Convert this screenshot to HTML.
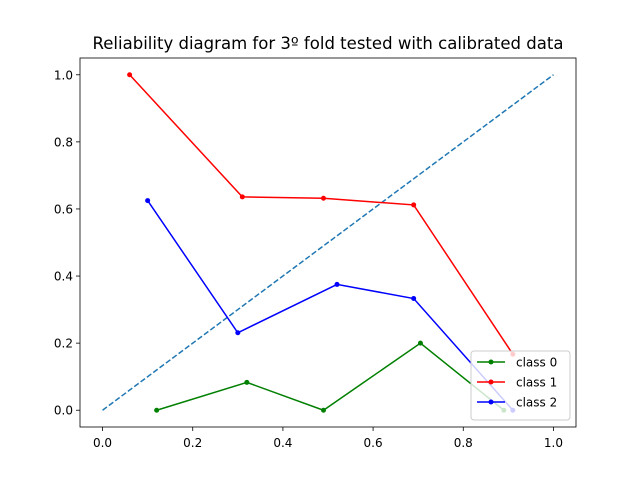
<!DOCTYPE html>
<html><head><meta charset="utf-8"><style>body{margin:0;background:#fff}svg{display:block;font-family:"DejaVu Sans","Liberation Sans",sans-serif}</style></head>
<body>
<svg id="chart" width="640" height="480" xmlns="http://www.w3.org/2000/svg"></svg>
<script>
const xTicks=[0,0.2,0.4,0.6,0.8,1.0];
const yTicks=[0,0.2,0.4,0.6,0.8,1.0];
const seriesNames=["class 0","class 1","class 2"];
const seriesColors=["green","red","blue"];
const class0X=[0.12,0.32,0.49,0.705,0.89];
const class0Y=[0.0,0.083,0.0,0.20,0.0];
const class1X=[0.06,0.31,0.49,0.69,0.91];
const class1Y=[1.0,0.636,0.632,0.612,0.167];
const class2X=[0.10,0.30,0.52,0.69,0.91];
const class2Y=[0.625,0.231,0.375,0.333,0.0];
const diagX=[0,1];
const diagY=[0,1];

const svg=document.getElementById('chart');
const NS='http://www.w3.org/2000/svg';
const L=80,R=576,T=58,B=427;
const sx=v=>L+(v+0.05)/1.1*(R-L);
const sy=v=>B-(v+0.05)/1.1*(B-T);
function mk(tag,attrs,parent){const e=document.createElementNS(NS,tag);for(const k in attrs)e.setAttribute(k,attrs[k]);(parent||svg).appendChild(e);return e;}

const title=mk('text',{x:328,y:49,'text-anchor':'middle','font-size':16.5,fill:'#000',textLength:471,lengthAdjust:'spacingAndGlyphs'});
title.textContent='Reliability diagram for 3º fold tested with calibrated data';



xTicks.forEach(t=>{
  const ln=mk('line',{x1:sx(t),x2:sx(t),y1:B,y2:B+4,stroke:'#000','stroke-width':0.8});
  
  
  const tx=mk('text',{x:sx(t),y:B+20,'text-anchor':'middle','font-size':12,fill:'#000'});
  tx.textContent=t.toFixed(1);
  
  
});
yTicks.forEach(t=>{
  const ln=mk('line',{x1:L-4,x2:L,y1:sy(t),y2:sy(t),stroke:'#000','stroke-width':0.8});
  
  
  const tx=mk('text',{x:L-7,y:sy(t)+4.5,'text-anchor':'end','font-size':12,fill:'#000'});
  tx.textContent=t.toFixed(1);
  
  
});

const diag=mk('polyline',{points:diagX.map((x,i)=>sx(x)+','+sy(diagY[i])).join(' '),fill:'none',stroke:'#1f77b4','stroke-width':1.5,'stroke-dasharray':'5.5,2.4'});



const allX=[class0X,class1X,class2X],allY=[class0Y,class1Y,class2Y];
allX.forEach((xs,s)=>{
  const g=mk('g',{});
  
  
  mk('polyline',{points:xs.map((x,i)=>sx(x)+','+sy(allY[s][i])).join(' '),fill:'none',stroke:seriesColors[s],'stroke-width':1.5},g);
  xs.forEach((x,i)=>{
    const c=mk('circle',{cx:sx(x),cy:sy(allY[s][i]),r:2.5,fill:seriesColors[s]},g);
    
    
  });
});

const frame=mk('rect',{x:L,y:T,width:R-L,height:B-T,fill:'none',stroke:'#000','stroke-width':0.8});



const lg=mk('g',{});


mk('rect',{x:471,y:351,width:99,height:69,rx:3,fill:'#fff','fill-opacity':0.8,stroke:'#ccc','stroke-width':1},lg);
seriesNames.forEach((n,i)=>{
  const y=362+i*20;
  const e=mk('g',{},lg);
  
  
  mk('line',{x1:477,x2:505,y1:y,y2:y,stroke:seriesColors[i],'stroke-width':1.5},e);
  mk('circle',{cx:491,cy:y,r:2.5,fill:seriesColors[i]},e);
  const t=mk('text',{x:516,y:y+4.5,'font-size':12,fill:'#000'},e);
  t.textContent=n;
});
</script>
</body></html>
